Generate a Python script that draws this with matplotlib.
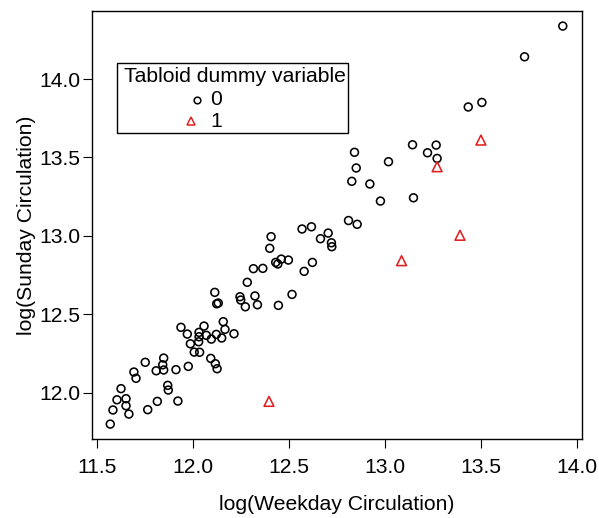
import numpy as np
import matplotlib.pyplot as plt
from matplotlib.patches import Rectangle
from matplotlib.ticker import FormatStrFormatter

plt.rcParams['font.family'] = ['Liberation Sans', 'DejaVu Sans']

# non-tabloid papers (dummy = 0)
weekday_0 = [13.926, 13.727, 13.505, 13.434, 13.267, 13.222, 13.272, 12.842, 13.144, 13.019,
             12.851, 12.828, 12.922, 12.977, 13.149, 12.811, 12.856, 12.569, 12.618, 12.705,
             12.665, 12.722, 12.724, 12.623, 12.580, 12.408, 12.401, 12.316, 12.365, 12.432,
             12.443, 12.461, 12.498, 12.284, 12.115, 12.125, 12.133, 12.246, 12.250, 12.324,
             12.274, 12.337, 12.446, 12.517, 12.159, 11.939, 11.972, 12.059, 12.033, 12.033,
             12.031, 12.071, 11.988, 12.008, 12.036, 12.097, 12.123, 12.151, 12.168, 12.215,
             12.094, 12.118, 12.127, 11.977, 11.913, 11.849, 11.844, 11.849, 11.810, 11.753,
             11.694, 11.705, 11.870, 11.873, 11.923, 11.816, 11.766, 11.627, 11.606, 11.653,
             11.653, 11.585, 11.668, 11.571]
sunday_0 = [14.338, 14.142, 13.851, 13.822, 13.579, 13.530, 13.494, 13.533, 13.581, 13.473,
            13.433, 13.348, 13.331, 13.222, 13.243, 13.098, 13.074, 13.044, 13.058, 13.018,
            12.982, 12.956, 12.931, 12.831, 12.774, 12.995, 12.921, 12.791, 12.793, 12.831,
            12.821, 12.852, 12.846, 12.704, 12.640, 12.567, 12.572, 12.612, 12.591, 12.617,
            12.548, 12.561, 12.557, 12.627, 12.453, 12.417, 12.374, 12.425, 12.385, 12.357,
            12.325, 12.366, 12.312, 12.259, 12.258, 12.342, 12.372, 12.349, 12.404, 12.376,
            12.219, 12.185, 12.153, 12.168, 12.147, 12.221, 12.178, 12.145, 12.140, 12.194,
            12.132, 12.092, 12.047, 12.017, 11.947, 11.945, 11.892, 12.026, 11.955, 11.962,
            11.917, 11.890, 11.864, 11.800]

# tabloids (dummy = 1)
weekday_1 = [13.500, 13.272, 13.391, 13.087, 12.397]
sunday_1 = [13.611, 13.441, 13.004, 12.842, 11.945]

x_ticks = [11.5, 12.0, 12.5, 13.0, 13.5, 14.0]
y_ticks = [12.0, 12.5, 13.0, 13.5, 14.0]
legend_title = 'Tabloid dummy variable'
legend_labels = ['0', '1']

red = '#e02020'
fs = 15.2

W, H = 599, 518
fig = plt.figure(figsize=(W/100, H/100), dpi=100)
ax = fig.add_axes([92/W, 79/H, 490/W, 428/H])

ax.scatter(weekday_0, sunday_0, s=32, facecolors='none', edgecolors='black', linewidths=1.15)
ax.scatter(weekday_1, sunday_1, s=50, marker='^', facecolors='none', edgecolors=red,
           linewidths=1.15)

ax.set_xlim(11.476, 14.026)
ax.set_ylim(11.705, 14.434)
ax.set_xticks(x_ticks)
ax.set_yticks(y_ticks)
ax.xaxis.set_major_formatter(FormatStrFormatter('%.1f'))
ax.yaxis.set_major_formatter(FormatStrFormatter('%.1f'))
ax.tick_params(axis='both', direction='out', length=6.5, width=0.8, labelsize=fs)
ax.tick_params(axis='x', pad=7)
ax.tick_params(axis='y', pad=2)
for sp in ax.spines.values():
    sp.set_linewidth(1.0)

ax.set_xlabel('log(Weekday Circulation)', fontsize=fs, labelpad=13)
ax.set_ylabel('log(Sunday Circulation)', fontsize=fs, labelpad=2)

# legend drawn by hand (R style: entries sit left of the title centre)
def px(x, y):
    # figure pixel -> axes fraction
    return (x - 92) / 490, 1 - (y - 11) / 428

x0, y0 = px(117, 133)
x1, y1 = px(348, 63)
ax.add_patch(Rectangle((x0, y0), x1 - x0, y1 - y0, transform=ax.transAxes,
                       facecolor='white', edgecolor='black', linewidth=1.0, zorder=5))
ax.text(*px(234.5, 77), legend_title, transform=ax.transAxes, fontsize=fs,
        ha='center', va='center', zorder=6)
ax.plot(*px(197.5, 99.5), marker='o', ms=4.8, mfc='none', mec='black', mew=1.1,
        transform=ax.transAxes, zorder=6)
ax.plot(*px(191, 121.5), marker='^', ms=6, mfc='none', mec=red, mew=1.1,
        transform=ax.transAxes, zorder=6)
ax.text(*px(210, 99.5), legend_labels[0], transform=ax.transAxes, fontsize=fs,
        ha='left', va='center', zorder=6)
ax.text(*px(210, 121.5), legend_labels[1], transform=ax.transAxes, fontsize=fs,
        ha='left', va='center', zorder=6)

fig.savefig('out.png', dpi=100)
